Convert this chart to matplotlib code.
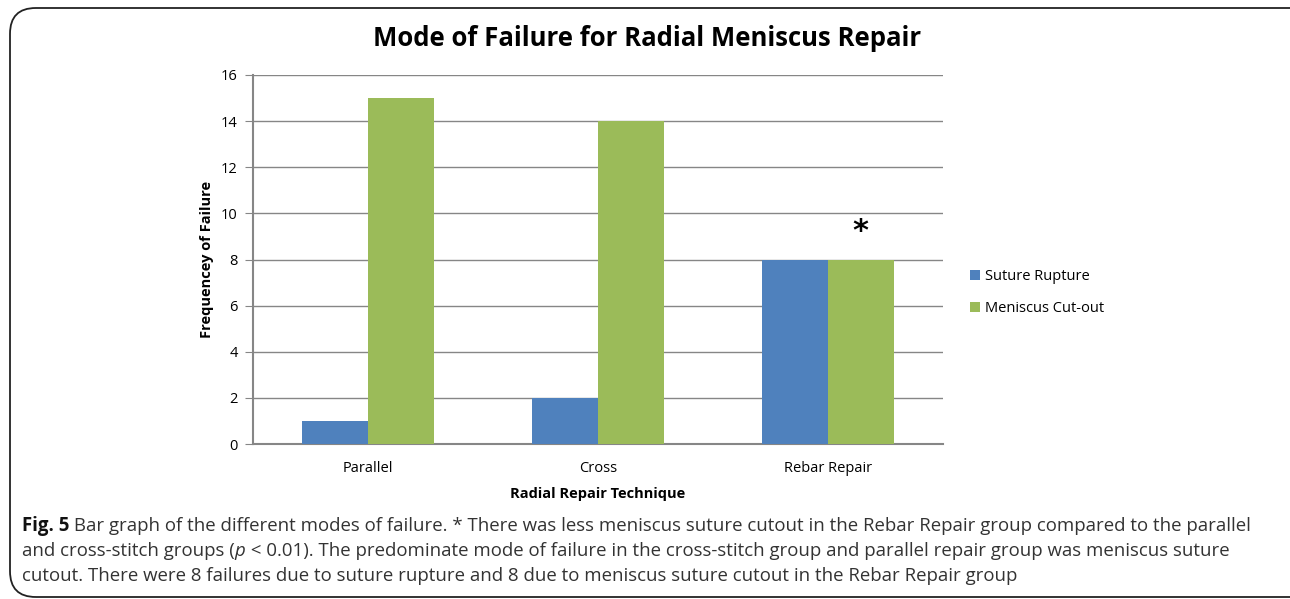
import matplotlib
matplotlib.use("Agg")
import matplotlib.pyplot as plt
import numpy as np
from matplotlib.patches import FancyBboxPatch

plt.rcParams['font.family'] = ['Open Sans', 'DejaVu Sans']

categories = ['Parallel', 'Cross', 'Rebar Repair']
suture_rupture = [1, 2, 8]
meniscus_cutout = [15, 14, 8]
series_names = ['Suture Rupture', 'Meniscus Cut-out']
yticks = [0, 2, 4, 6, 8, 10, 12, 14, 16]
star_value = 9.2

W, H = 1290, 599
fig = plt.figure(figsize=(W / 100, H / 100), dpi=100)

# rounded frame round everything
frame = FancyBboxPatch((10 / W, 2 / H), (W + 20) / W, 589 / H,
                       boxstyle="round,pad=0,rounding_size=0.02",
                       transform=fig.transFigure, fill=False,
                       edgecolor='#222222', linewidth=1.3, mutation_aspect=W / H)
fig.patches.append(frame)

ax = fig.add_axes([253 / W, 155 / H, 690 / W, 369 / H])
x = np.arange(len(categories))
w = 0.285
ax.bar(x - w / 2, suture_rupture, w, color='#4F81BD', label=series_names[0], zorder=3)
ax.bar(x + w / 2, meniscus_cutout, w, color='#9BBB59', label=series_names[1], zorder=3)
ax.text(x[2] + w / 2, star_value, '*', ha='center', va='center',
        fontsize=22, fontweight='bold', family='DejaVu Sans')

ax.set_xlim(-0.5, 2.5)
ax.set_ylim(0, 16)
ax.set_yticks(yticks)
ax.set_xticks(x)
ax.set_xticklabels(categories, fontsize=10.5)
ax.tick_params(axis='y', length=6, color='#868686', labelsize=10.5, pad=5)
ax.tick_params(axis='x', length=0, pad=12)
ax.yaxis.grid(True, color='#868686', linewidth=1)
ax.set_axisbelow(True)
for s in ['top', 'right']:
    ax.spines[s].set_visible(False)
for s in ['left', 'bottom']:
    ax.spines[s].set_color('#868686')
    ax.spines[s].set_linewidth(1.5)

ax.set_ylabel('Frequencey of Failure', fontsize=10.5, fontweight='bold', labelpad=5)
ax.set_xlabel('Radial Repair Technique', fontsize=10.5, fontweight='bold', labelpad=8)

fig.text(647 / W, 1 - 38 / H, 'Mode of Failure for Radial Meniscus Repair',
         ha='center', va='center', fontsize=18.5, fontweight='bold')

ax.legend(loc='center left', bbox_to_anchor=(1.02, 0.41), frameon=False,
          fontsize=10.5, handlelength=0.7, handleheight=0.7, handletextpad=0.3,
          labelspacing=1.2)

# caption
cap_color = '#333333'
cap_size = 13.45
fig.canvas.draw()
renderer = fig.canvas.get_renderer()


def put_line(pieces, y):
    xpos = 22
    for txt, kw in pieces:
        opts = dict(fontsize=cap_size, color=cap_color)
        opts.update(kw)
        t = fig.text(xpos / W, 1 - y / H, txt, ha='left', va='baseline', **opts)
        bb = t.get_window_extent(renderer)
        xpos += bb.width


put_line([('Fig. 5', {'fontweight': 'bold', 'color': '#111111'}),
          (' Bar graph of the different modes of failure. * There was less meniscus suture cutout in the Rebar Repair group compared to the parallel', {})], 531)
put_line([('and cross-stitch groups (', {}), ('p', {'style': 'italic'}),
          (' < 0.01). The predominate mode of failure in the cross-stitch group and parallel repair group was meniscus suture', {})], 556)
put_line([('cutout. There were 8 failures due to suture rupture and 8 due to meniscus suture cutout in the Rebar Repair group', {})], 581)

fig.savefig('out.png', dpi=100)
